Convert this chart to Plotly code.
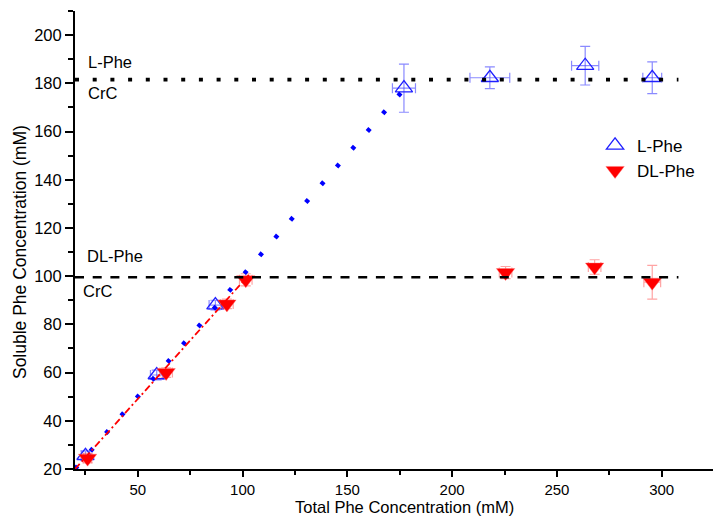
import plotly.graph_objects as go

# Measured points: total vs soluble Phe concentration (mM)
l_total = [25, 59, 87, 177, 218, 263.5, 295.5]
l_soluble = [25.5, 59, 88, 178, 182.3, 187.3, 182.3]
l_total_err = [2, 3, 3, 5.5, 9.5, 6.5, 4.5]
l_soluble_err = [2, 2, 2, 10, 4.5, 8, 6.6]

dl_total = [26, 63.5, 92.5, 101.5, 225.5, 268, 295.5]
dl_soluble = [24.5, 60, 88.5, 98.5, 101.5, 103.8, 97.5]
dl_total_err = [2, 3, 3, 3, 3, 3, 4]
dl_soluble_err = [2, 2, 2, 2.5, 2.5, 3, 7]

# Linear regions (below CrC)
l_fit_x = [20, 177]
l_fit_y = [20, 177.5]
dl_fit_x = [20, 103]
dl_fit_y = [20, 100.5]

# Critical concentrations (CrC)
l_crc = 181.5
dl_crc = 99.5
crc_x = [20, 308]

x_range = [20, 324.5]
y_range = [20, 210]

FONT = "Arial, Liberation Sans, sans-serif"
BLUE = "#2020ff"
RED = "#ff0000"

fig = go.Figure()

fig.add_trace(go.Scatter(
    x=l_total, y=l_soluble, mode="markers", name="L-Phe",
    legendgroup="l",
    marker=dict(symbol="triangle-up-open", size=15, color=BLUE,
                line=dict(width=1.3, color=BLUE)),
    error_y=dict(type="data", array=l_soluble_err, visible=True,
                 color="rgba(60,60,255,0.6)", thickness=1.2, width=5),
    error_x=dict(type="data", array=l_total_err, visible=True,
                 color="rgba(60,60,255,0.6)", thickness=1.2, width=5),
))

fig.add_trace(go.Scatter(
    x=dl_total, y=dl_soluble, mode="markers", name="DL-Phe",
    legendgroup="dl",
    marker=dict(symbol="triangle-down", size=16, color=RED,
                line=dict(width=0.5, color="rgba(255,120,120,0.8)")),
    error_y=dict(type="data", array=dl_soluble_err, visible=True,
                 color="rgba(255,90,90,0.55)", thickness=1.2, width=5),
    error_x=dict(type="data", array=dl_total_err, visible=True,
                 color="rgba(255,90,90,0.55)", thickness=1.2, width=5),
))

fig.add_trace(go.Scatter(
    x=l_fit_x, y=l_fit_y, mode="lines", showlegend=False,
    line=dict(color="#0000ff", width=4.5, dash="4px,19.5px"),
))
fig.add_trace(go.Scatter(
    x=dl_fit_x, y=dl_fit_y, mode="lines", showlegend=False,
    line=dict(color=RED, width=1.8, dash="7px,3px,2px,3px"),
))

fig.add_trace(go.Scatter(
    x=crc_x, y=[l_crc, l_crc], mode="lines", showlegend=False,
    line=dict(color="black", width=3.8, dash="4px,13.7px"),
))
fig.add_trace(go.Scatter(
    x=crc_x, y=[dl_crc, dl_crc], mode="lines", showlegend=False,
    line=dict(color="black", width=2.5, dash="9px,8.7px"),
))

labels = [
    ("L-Phe", 26.2, 188.8),
    ("CrC", 26.2, 176.0),
    ("DL-Phe", 25.7, 108.3),
    ("CrC", 23.8, 93.8),
]
for text, lx, ly in labels:
    fig.add_annotation(x=lx, y=ly, xref="x", yref="y", text=text,
                       showarrow=False, xanchor="left", yanchor="middle",
                       xshift=-2,
                       font=dict(family=FONT, size=16.5, color="black"))

# x-axis title sits flush with the bottom edge, just under the tick labels
fig.add_annotation(x=0.517, y=-0.1048, xref="paper", yref="paper",
                   text="Total Phe Concentration (mM)", showarrow=False,
                   xanchor="center", yanchor="bottom", borderpad=0,
                   font=dict(family=FONT, size=16.5, color="black"))
fig.add_annotation(x=-0.086, y=0.474, xref="paper", yref="paper",
                   text="Soluble Phe Concentration (mM)", showarrow=False,
                   textangle=-90, xanchor="center", yanchor="middle",
                   font=dict(family=FONT, size=17.5, color="black"))

axis_common = dict(
    showline=True, linewidth=2, linecolor="black", mirror=False,
    ticks="outside", tickwidth=2, tickcolor="black",
    showgrid=False, zeroline=False,
)

fig.update_xaxes(range=x_range, tick0=0, dtick=50, ticklen=6,
                 tickfont=dict(family=FONT, size=15, color="black"),
                 minor=dict(ticks="outside", ticklen=4, tickwidth=2,
                            tickcolor="black", dtick=25, tick0=0, showgrid=False),
                 **axis_common)
fig.update_yaxes(range=y_range, tick0=0, dtick=20, ticklen=8,
                 tickfont=dict(family=FONT, size=16.5, color="black"),
                 minor=dict(ticks="outside", ticklen=5, tickwidth=2,
                            tickcolor="black", dtick=10, tick0=0, showgrid=False),
                 **axis_common)

fig.update_layout(
    width=713, height=518,
    margin=dict(l=75, r=0, t=11, b=49),
    paper_bgcolor="white", plot_bgcolor="white",
    font=dict(family=FONT, size=17, color="black"),
    legend=dict(x=0.812, y=0.745, xanchor="left", yanchor="top",
                bgcolor="rgba(0,0,0,0)", tracegroupgap=0, itemwidth=34,
                font=dict(family=FONT, size=17, color="black")),
)

fig.write_html("out.html")
